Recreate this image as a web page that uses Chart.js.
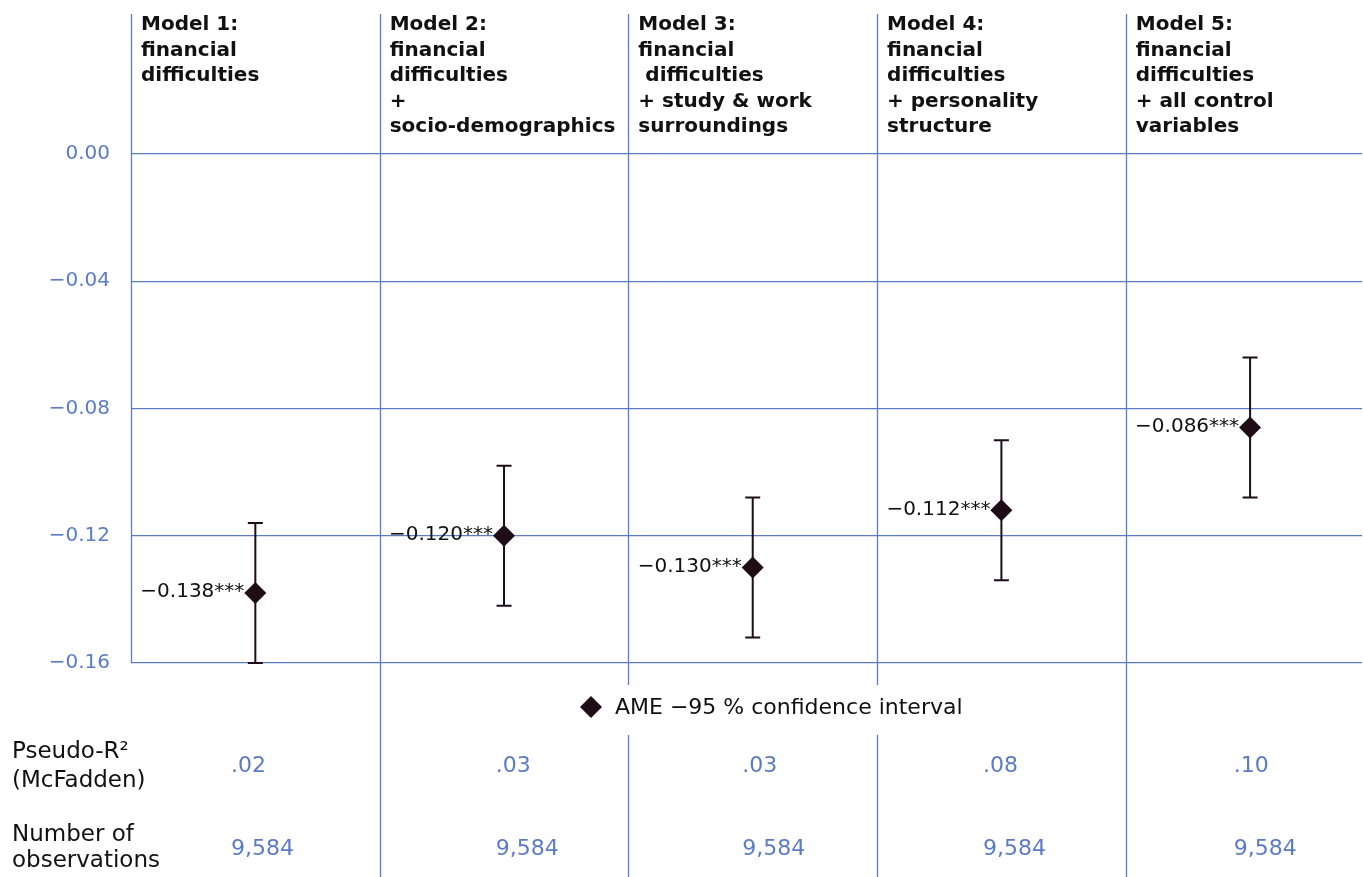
<!DOCTYPE html>
<html>
<head>
<meta charset="utf-8">
<script src="https://cdn.jsdelivr.net/npm/chart.js@4"></script>
<style>
  html, body { margin: 0; padding: 0; background: #fff; overflow: hidden; }
  #wrap { width: 1363px; height: 877px; position: relative; }
  #chAme { display: block; }
</style>
</head>
<body>
<div id="wrap"><canvas id="chAme"></canvas></div>
<script>
// data
const headers = [
  ['Model 1:', 'financial', 'difficulties'],
  ['Model 2:', 'financial', 'difficulties', '+', 'socio-demographics'],
  ['Model 3:', 'financial', ' difficulties', '+ study & work', 'surroundings'],
  ['Model 4:', 'financial', 'difficulties', '+ personality', 'structure'],
  ['Model 5:', 'financial', 'difficulties', '+ all control', 'variables']
];
const ame = [-0.138, -0.120, -0.130, -0.112, -0.086];
const ciLow = [-0.160, -0.142, -0.152, -0.134, -0.108];
const ciHigh = [-0.116, -0.098, -0.108, -0.090, -0.064];
const stars = ['***', '***', '***', '***', '***'];
const pseudoR2 = ['.02', '.03', '.03', '.08', '.10'];
const nObs = ['9,584', '9,584', '9,584', '9,584', '9,584'];
const yTicks = [0, -0.04, -0.08, -0.12, -0.16];

const blue = '#5b7cc4';
const dark = '#1e0d17';
const fontName = '"DejaVu Sans", sans-serif';

// small per-column nudges for the table values (left edge from column start)
const tableOffset = [100, 116, 114, 106, 108];

function fmt(v) {
  return (v < 0 ? '\u2212' : '') + Math.abs(v).toFixed(3);
}

const amePlugin = {
  id: 'amePlugin',
  beforeDatasetsDraw(chart) {
    const ctx = chart.ctx;
    const xs = chart.scales.x, ys = chart.scales.y;
    const area = chart.chartArea;
    ctx.save();
    // column rules
    ctx.strokeStyle = blue;
    ctx.lineWidth = 1.3;
    for (let i = 0; i < headers.length; i++) {
      const x = Math.round(xs.getPixelForValue(i)) + 0.5;
      ctx.beginPath();
      ctx.moveTo(x, 14);
      ctx.lineTo(x, i === 0 ? area.bottom : chart.height);
      ctx.stroke();
    }
    // confidence intervals
    ctx.strokeStyle = dark;
    ctx.lineWidth = 2;
    ame.forEach((v, i) => {
      const x = xs.getPixelForValue(i + 0.5);
      const yl = ys.getPixelForValue(ciLow[i]);
      const yh = ys.getPixelForValue(ciHigh[i]);
      ctx.beginPath();
      ctx.moveTo(x, yl); ctx.lineTo(x, yh);
      ctx.moveTo(x - 7.5, yl); ctx.lineTo(x + 7.5, yl);
      ctx.moveTo(x - 7.5, yh); ctx.lineTo(x + 7.5, yh);
      ctx.stroke();
    });
    ctx.restore();
  },
  afterDraw(chart) {
    const ctx = chart.ctx;
    const xs = chart.scales.x, ys = chart.scales.y;
    ctx.save();
    ctx.textBaseline = 'middle';

    // value labels
    ctx.fillStyle = '#111';
    ctx.textAlign = 'right';
    ctx.font = '20px ' + fontName;
    ame.forEach((v, i) => {
      const x = xs.getPixelForValue(i + 0.5);
      const y = ys.getPixelForValue(v);
      ctx.fillText(fmt(v) + stars[i], x - 11, y - 1);
    });

    // headers
    ctx.textAlign = 'left';
    ctx.font = 'bold 20px ' + fontName;
    headers.forEach((lines, i) => {
      const x0 = xs.getPixelForValue(i) + 10;
      lines.forEach((t, j) => ctx.fillText(t, x0, 25 + j * 25.5));
    });

    // legend
    ctx.fillStyle = '#fff';
    ctx.fillRect(565, 685, 420, 50);
    ctx.fillStyle = dark;
    ctx.beginPath();
    ctx.moveTo(591, 696); ctx.lineTo(602, 707); ctx.lineTo(591, 718); ctx.lineTo(580, 707);
    ctx.closePath(); ctx.fill();
    ctx.fillStyle = '#111';
    ctx.font = '22px ' + fontName;
    ctx.fillText('AME \u221295 % confidence interval', 615, 708);

    // table rows
    ctx.font = '23px ' + fontName;
    ctx.fillText('Pseudo-R\u00b2', 12, 752);
    ctx.fillText('(McFadden)', 12, 781);
    ctx.fillText('Number of', 12, 835);
    ctx.fillText('observations', 12, 861);
    ctx.font = '22px ' + fontName;
    ctx.fillStyle = blue;
    pseudoR2.forEach((t, i) => {
      const x0 = xs.getPixelForValue(i) + tableOffset[i];
      ctx.fillText(t, x0, 766);
      ctx.fillText(nObs[i], x0, 849);
    });
    ctx.restore();
  }
};

new Chart(document.getElementById('chAme'), {
  type: 'scatter',
  data: {
    datasets: [{
      label: 'AME',
      data: ame.map((v, i) => ({ x: i + 0.5, y: v })),
      pointStyle: 'rectRot',
      pointRadius: 11,
      pointHoverRadius: 11,
      backgroundColor: dark,
      borderColor: dark,
      borderWidth: 0
    }]
  },
  options: {
    responsive: true,
    maintainAspectRatio: false,
    animation: false,
    layout: { autoPadding: false, padding: { top: 154, bottom: 214, right: 1, left: 0 } },
    plugins: { legend: { display: false }, tooltip: { enabled: false } },
    scales: {
      x: { type: 'linear', min: 0, max: 4.95, display: false },
      y: {
        min: -0.16,
        max: 0,
        afterFit(scale) { scale.width = 131; },
        afterBuildTicks(scale) { scale.ticks = yTicks.map(v => ({ value: v })); },
        border: { display: false },
        grid: { color: blue, lineWidth: 1.3, drawTicks: false },
        ticks: {
          padding: 21,
          color: blue,
          font: { family: 'DejaVu Sans', size: 20 },
          callback: v => v === 0 ? '0.00' : '\u2212' + Math.abs(v).toFixed(2)
        }
      }
    }
  },
  plugins: [amePlugin]
});
</script>
</body>
</html>
